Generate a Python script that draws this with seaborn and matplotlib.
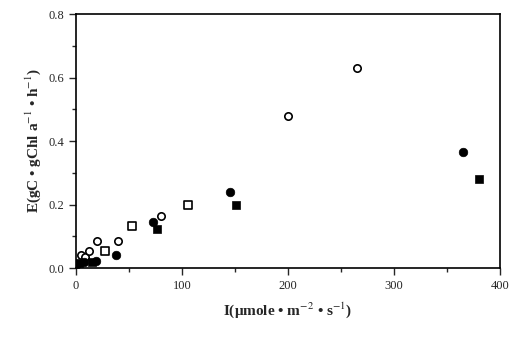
import matplotlib
matplotlib.use("Agg")
import matplotlib.pyplot as plt
import seaborn as sns
from matplotlib.ticker import MultipleLocator

# open circles
oc_x = [5, 9, 12, 20, 40, 80, 200, 265]
oc_y = [0.040, 0.035, 0.053, 0.085, 0.085, 0.165, 0.48, 0.63]
# open squares
os_x = [27, 53, 106]
os_y = [0.053, 0.133, 0.200]
# filled circles
fc_x = [1, 8, 19, 38, 73, 145, 365]
fc_y = [0.012, 0.020, 0.022, 0.041, 0.145, 0.240, 0.365]
# filled squares
fs_x = [3, 15, 76, 151, 380]
fs_y = [0.015, 0.018, 0.123, 0.200, 0.280]

sns.set_style("ticks")
plt.rcParams['font.family'] = ['Liberation Serif', 'DejaVu Serif']
plt.rcParams['mathtext.fontset'] = 'stix'

fig = plt.figure(figsize=(5.13, 3.42), dpi=100)
ax = fig.add_axes([0.148, 0.216, 0.827, 0.743])

sns.scatterplot(x=oc_x, y=oc_y, ax=ax, marker='o', s=28, facecolor='white',
                edgecolor='black', linewidth=1.2, zorder=3)
sns.scatterplot(x=os_x, y=os_y, ax=ax, marker='s', s=32, facecolor='white',
                edgecolor='black', linewidth=1.2, zorder=3)
sns.scatterplot(x=fc_x, y=fc_y, ax=ax, marker='o', s=38, color='black',
                edgecolor='black', zorder=3)
sns.scatterplot(x=fs_x, y=fs_y, ax=ax, marker='s', s=36, color='black',
                edgecolor='black', zorder=3)

ax.set_xlim(0, 400)
ax.set_ylim(0, 0.8)
ax.xaxis.set_major_locator(MultipleLocator(100))
ax.xaxis.set_minor_locator(MultipleLocator(50))
ax.yaxis.set_major_locator(MultipleLocator(0.2))
ax.yaxis.set_minor_locator(MultipleLocator(0.1))
ax.yaxis.set_major_formatter(matplotlib.ticker.FormatStrFormatter('%.1f'))
ax.tick_params(which='major', direction='out', length=5, width=1, labelsize=9)
ax.tick_params(which='minor', direction='out', length=3, width=1)
for sp in ax.spines.values():
    sp.set_linewidth(1.2)
    sp.set_color('black')

ax.set_xlabel('I(μmole • m$^{-2}$ • s$^{-1}$)', fontsize=11, fontweight='bold', labelpad=6)
ax.set_ylabel('E(gC • gChl a$^{-1}$ • h$^{-1}$)', fontsize=11, fontweight='bold', labelpad=4)

fig.savefig('out.png', dpi=100)
